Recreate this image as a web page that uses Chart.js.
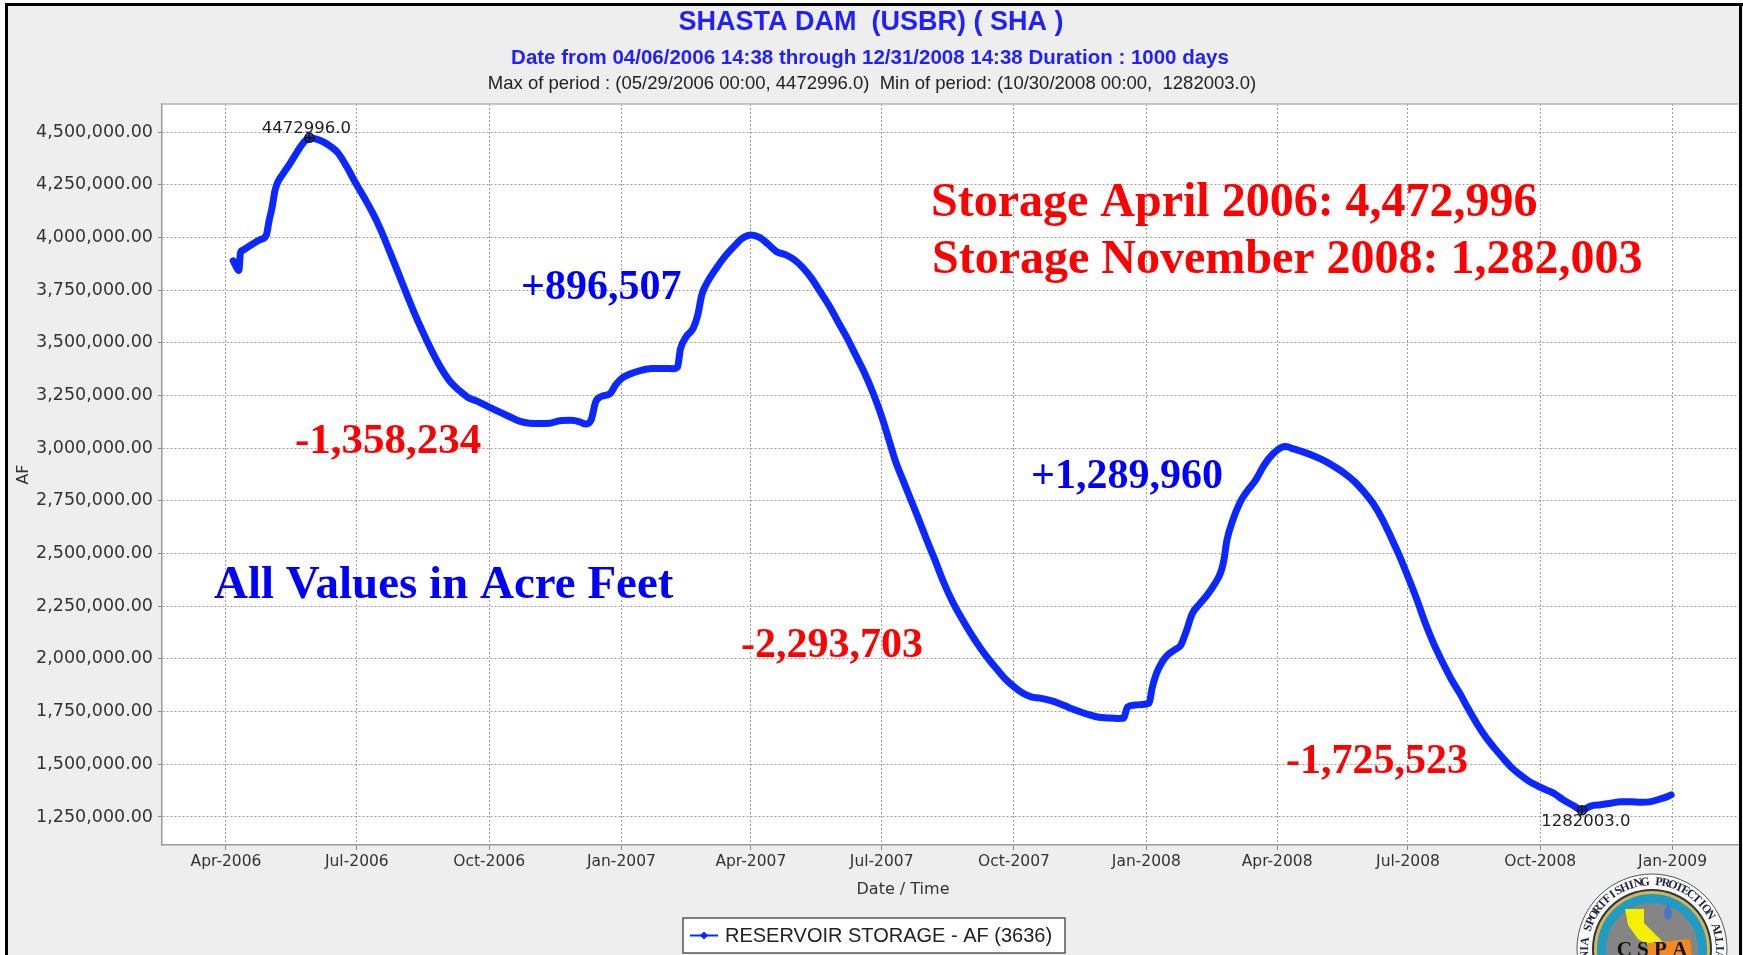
<!DOCTYPE html>
<html>
<head>
<meta charset="utf-8">
<title>Shasta Dam - reservoir storage</title>
<script src="https://cdn.jsdelivr.net/npm/chart.js@4.4.1/dist/chart.umd.min.js"></script>
<style>
  html, body { margin: 0; padding: 0; background: #fff; }
  canvas { display: block; }
</style>
</head>
<body>
<canvas id="storageChart" width="1743" height="955"></canvas>
<script>
/* ----- data ----- */
const dates = [
  "2006-04-06", "2006-04-08", "2006-04-10", "2006-04-11", "2006-04-13", "2006-04-17", "2006-04-21", "2006-04-25",
  "2006-04-29", "2006-05-01", "2006-05-03", "2006-05-05", "2006-05-07", "2006-05-11", "2006-05-15", "2006-05-20",
  "2006-05-25", "2006-05-29", "2006-06-03", "2006-06-08", "2006-06-13", "2006-06-18", "2006-06-24", "2006-06-30",
  "2006-07-06", "2006-07-12", "2006-07-18", "2006-07-24", "2006-07-30", "2006-08-05", "2006-08-11", "2006-08-17",
  "2006-08-23", "2006-08-29", "2006-09-04", "2006-09-10", "2006-09-16", "2006-09-23", "2006-10-01", "2006-10-08",
  "2006-10-15", "2006-10-22", "2006-10-29", "2006-11-05", "2006-11-12", "2006-11-19", "2006-11-27", "2006-12-03",
  "2006-12-07", "2006-12-11", "2006-12-14", "2006-12-18", "2006-12-24", "2006-12-28", "2007-01-01", "2007-01-07",
  "2007-01-14", "2007-01-22", "2007-01-30", "2007-02-06", "2007-02-09", "2007-02-11", "2007-02-15", "2007-02-20",
  "2007-02-23", "2007-02-26", "2007-03-02", "2007-03-08", "2007-03-14", "2007-03-20", "2007-03-26", "2007-04-01",
  "2007-04-07", "2007-04-13", "2007-04-19", "2007-04-25", "2007-05-01", "2007-05-07", "2007-05-13", "2007-05-19",
  "2007-05-26", "2007-06-01", "2007-06-07", "2007-06-13", "2007-06-19", "2007-06-25", "2007-07-01", "2007-07-06",
  "2007-07-11", "2007-07-16", "2007-07-21", "2007-07-26", "2007-08-01", "2007-08-07", "2007-08-13", "2007-08-19",
  "2007-08-25", "2007-09-01", "2007-09-07", "2007-09-13", "2007-09-19", "2007-09-25", "2007-10-01", "2007-10-07",
  "2007-10-13", "2007-10-19", "2007-10-26", "2007-11-01", "2007-11-08", "2007-11-15", "2007-11-22", "2007-11-29",
  "2007-12-05", "2007-12-12", "2007-12-16", "2007-12-19", "2007-12-24", "2007-12-29", "2008-01-03", "2008-01-05",
  "2008-01-08", "2008-01-12", "2008-01-16", "2008-01-22", "2008-01-25", "2008-01-29", "2008-02-02", "2008-02-07",
  "2008-02-12", "2008-02-18", "2008-02-22", "2008-02-24", "2008-02-26", "2008-03-01", "2008-03-06", "2008-03-11",
  "2008-03-17", "2008-03-23", "2008-03-29", "2008-04-04", "2008-04-07", "2008-04-13", "2008-04-20", "2008-04-27",
  "2008-05-04", "2008-05-11", "2008-05-18", "2008-05-25", "2008-06-01", "2008-06-07", "2008-06-13", "2008-06-19",
  "2008-06-25", "2008-07-01", "2008-07-07", "2008-07-13", "2008-07-19", "2008-07-25", "2008-07-31", "2008-08-06",
  "2008-08-12", "2008-08-18", "2008-08-24", "2008-08-30", "2008-09-05", "2008-09-11", "2008-09-17", "2008-09-23",
  "2008-09-29", "2008-10-05", "2008-10-11", "2008-10-17", "2008-10-24", "2008-10-30", "2008-11-05", "2008-11-12",
  "2008-11-19", "2008-11-26", "2008-12-03", "2008-12-10", "2008-12-17", "2008-12-23", "2008-12-27", "2008-12-31"
];

const storage = [
  3889000, 3862000, 3843000, 3925000, 3940000, 3958000, 3975000, 3990000,
  4010000, 4080000, 4140000, 4220000, 4262000, 4305000, 4345000, 4400000,
  4450000, 4472996, 4466000, 4452000, 4430000, 4400000, 4335000, 4260000,
  4190000, 4116000, 4030000, 3930000, 3828000, 3725000, 3625000, 3535000,
  3450000, 3375000, 3315000, 3275000, 3242000, 3222000, 3195000, 3172000,
  3150000, 3128000, 3118000, 3117000, 3118000, 3130000, 3132000, 3125000,
  3114762, 3135000, 3218000, 3245000, 3258000, 3300000, 3330000, 3352000,
  3368000, 3378000, 3378000, 3377000, 3385000, 3470000, 3528000, 3570000,
  3630000, 3730000, 3790000, 3854000, 3910000, 3955000, 3995000, 4011269,
  4000000, 3968000, 3932000, 3918000, 3895000, 3858000, 3808000, 3745000,
  3670000, 3595000, 3522000, 3440000, 3358000, 3262000, 3150000, 3040000,
  2930000, 2845000, 2760000, 2675000, 2570000, 2470000, 2365000, 2275000,
  2200000, 2120000, 2058000, 2002000, 1952000, 1905000, 1868000, 1838000,
  1820000, 1814000, 1803000, 1790000, 1770000, 1752000, 1736000, 1723000,
  1720000, 1717566, 1718000, 1772000, 1781000, 1784000, 1790000, 1860000,
  1930000, 1985000, 2020000, 2048000, 2065000, 2135000, 2215000, 2260000,
  2300000, 2360000, 2415000, 2470000, 2560000, 2655000, 2740000, 2795000,
  2848000, 2920000, 2972000, 3004000, 3007526, 2995000, 2980000, 2962000,
  2940000, 2912000, 2880000, 2840000, 2788000, 2735000, 2665000, 2580000,
  2490000, 2390000, 2285000, 2170000, 2070000, 1985000, 1905000, 1837000,
  1762000, 1692000, 1630000, 1578000, 1530000, 1485000, 1450000, 1420000,
  1398000, 1379000, 1360000, 1331000, 1304000, 1282003, 1302000, 1308000,
  1315000, 1322000, 1322000, 1320000, 1323000, 1335000, 1343000, 1355000
];

const tickDates = ["2006-04-01", "2006-07-01", "2006-10-01", "2007-01-01", "2007-04-01", "2007-07-01",
  "2007-10-01", "2008-01-01", "2008-04-01", "2008-07-01", "2008-10-01", "2009-01-01"];
const tickLabels = ["Apr-2006", "Jul-2006", "Oct-2006", "Jan-2007", "Apr-2007", "Jul-2007",
  "Oct-2007", "Jan-2008", "Apr-2008", "Jul-2008", "Oct-2008", "Jan-2009"];
const yTicks = [1250000, 1500000, 1750000, 2000000, 2250000, 2500000, 2750000,
  3000000, 3250000, 3500000, 3750000, 4000000, 4250000, 4500000];

const seriesLabel = "RESERVOIR STORAGE - AF (3636)";
const titleLines = [
  "SHASTA DAM  (USBR) ( SHA )",
  "Date from 04/06/2006 14:38 through 12/31/2008 14:38 Duration : 1000 days",
  "Max of period : (05/29/2006 00:00, 4472996.0)  Min of period: (10/30/2008 00:00,  1282003.0)"
];

/* ----- note di testo sul grafico ----- */
const notes = [
  { text: "Storage April 2006: 4,472,996", x: 931, y: 216, size: 48, color: "#ff0000" },
  { text: "Storage November 2008: 1,282,003", x: 932, y: 273, size: 48, color: "#ff0000" },
  { text: "+896,507", x: 521, y: 299, size: 42, color: "#0000ff" },
  { text: "-1,358,234", x: 295, y: 453, size: 43, color: "#ff0000" },
  { text: "All Values in Acre Feet", x: 214, y: 598, size: 47, color: "#0000ff" },
  { text: "-2,293,703", x: 741, y: 657, size: 42, color: "#ff0000" },
  { text: "+1,289,960", x: 1031, y: 488, size: 42, color: "#0000ff" },
  { text: "-1,725,523", x: 1286, y: 773, size: 42, color: "#ff0000" }
];

/* ----- helpers ----- */
const DAY = 86400000;
const origin = Date.parse("2006-04-01");
const toDay = (d) => (Date.parse(d) - origin) / DAY;

const SANS = '"Liberation Sans", Arial, sans-serif';
const TICKS = '"DejaVu Sans", Verdana, sans-serif';
const SERIF = '"Liberation Serif", "Times New Roman", serif';
const LINE_BLUE = "#0a28ff";

function crossMarker(ctx, x, y) {
  ctx.save();
  ctx.strokeStyle = "#111";
  ctx.lineWidth = 1.5;
  ctx.beginPath();
  ctx.arc(x, y, 4.5, 0, Math.PI * 2);
  ctx.moveTo(x - 4.5, y);
  ctx.lineTo(x + 4.5, y);
  ctx.moveTo(x, y - 4.5);
  ctx.lineTo(x, y + 4.5);
  ctx.stroke();
  ctx.restore();
}

function drawLogo(ctx, cx, cy, r) {
  ctx.save();
  ctx.beginPath();
  ctx.arc(cx, cy, r, 0, Math.PI * 2);
  ctx.fillStyle = "#fbfbf7";
  ctx.fill();
  ctx.strokeStyle = "#555";
  ctx.lineWidth = 1;
  ctx.stroke();

  // scritta circolare
  const ring = "CALIFORNIA SPORTFISHING PROTECTION ALLIANCE";
  const step = 0.104;
  ctx.fillStyle = "#1c2240";
  ctx.font = "bold 12px " + SERIF;
  ctx.textAlign = "center";
  ctx.textBaseline = "middle";
  for (let i = 0; i < ring.length; i++) {
    const a = -Math.PI / 2 + (i - 23) * step;
    ctx.save();
    ctx.translate(cx + (r - 8) * Math.cos(a), cy + (r - 8) * Math.sin(a));
    ctx.rotate(a + Math.PI / 2);
    ctx.fillText(ring[i], 0, 0);
    ctx.restore();
  }

  const rings = [[r - 15, "#2b3350"], [r - 17, "#d8b64a"], [r - 20, "#1f9cc4"], [r - 29, "#858585"]];
  rings.forEach(([rr, col]) => {
    ctx.beginPath();
    ctx.arc(cx, cy, rr, 0, Math.PI * 2);
    ctx.fillStyle = col;
    ctx.fill();
  });

  // california
  ctx.beginPath();
  ctx.moveTo(cx - 27, cy - 40);
  ctx.lineTo(cx - 8, cy - 40);
  ctx.lineTo(cx - 8, cy - 26);
  ctx.lineTo(cx + 12, cy - 6);
  ctx.lineTo(cx + 6, cy + 2);
  ctx.lineTo(cx - 14, cy - 10);
  ctx.lineTo(cx - 24, cy - 24);
  ctx.closePath();
  ctx.fillStyle = "#f4f000";
  ctx.fill();

  ctx.beginPath();
  ctx.moveTo(cx - 4, cy - 6);
  ctx.lineTo(cx + 38, cy - 10);
  ctx.lineTo(cx + 40, cy + 8);
  ctx.lineTo(cx - 4, cy + 8);
  ctx.closePath();
  ctx.fillStyle = "#f28a1e";
  ctx.fill();

  // goccia
  ctx.beginPath();
  ctx.moveTo(cx + 16, cy - 46);
  ctx.quadraticCurveTo(cx + 24, cy - 32, cx + 16, cy - 29);
  ctx.quadraticCurveTo(cx + 8, cy - 32, cx + 16, cy - 46);
  ctx.fillStyle = "#4a74c8";
  ctx.fill();

  ctx.fillStyle = "#111";
  ctx.font = "bold 21px " + SERIF;
  ctx.textAlign = "center";
  ctx.textBaseline = "alphabetic";
  ctx.fillText("C S P A", cx, cy + 7);
  ctx.restore();
}

/* ----- plugin sfondo, titoli, note, legenda ----- */
const decorations = {
  id: "decorations",
  beforeDraw(chart) {
    const { ctx, width, height, chartArea: a } = chart;
    ctx.save();
    ctx.fillStyle = "#ffffff";
    ctx.fillRect(0, 0, width, height);
    ctx.fillStyle = "#eeeeee";
    ctx.fillRect(7, 5, width - 7, height - 5);
    ctx.fillStyle = "#ffffff";
    ctx.fillRect(a.left, a.top, a.right - a.left, a.bottom - a.top);
    ctx.restore();
  },
  afterDraw(chart) {
    const { ctx, width, height, chartArea: a, scales } = chart;
    ctx.save();

    // cornice area dati
    ctx.strokeStyle = "#b5b5b5";
    ctx.lineWidth = 1.5;
    ctx.beginPath();
    ctx.moveTo(a.left, a.top);
    ctx.lineTo(a.right, a.top);
    ctx.stroke();

    // bordo nero
    ctx.fillStyle = "#000";
    ctx.fillRect(5, 3, width - 5, 3);
    ctx.fillRect(5, 3, 3, height - 3);
    ctx.fillRect(width - 4, 3, 3, height - 3);

    // titoli
    ctx.textAlign = "center";
    ctx.textBaseline = "middle";
    ctx.fillStyle = "#1f1fff";
    ctx.font = "bold 27px " + SANS;
    ctx.fillText(titleLines[0], 871, 23);
    ctx.font = "bold 20.5px " + SANS;
    ctx.fillText(titleLines[1], 870, 58);
    ctx.fillStyle = "#222";
    ctx.font = "18.5px " + SANS;
    ctx.fillText(titleLines[2], 872, 84);

    // titolo asse x
    ctx.fillStyle = "#333";
    ctx.font = "16px " + TICKS;
    ctx.fillText("Date / Time", 903, 890);

    // massimo e minimo
    const iMax = storage.indexOf(Math.max(...storage));
    const iMin = storage.indexOf(Math.min(...storage));
    const px = (i) => scales.x.getPixelForValue(toDay(dates[i]));
    const py = (i) => scales.y.getPixelForValue(storage[i]);
    crossMarker(ctx, px(iMax), py(iMax));
    crossMarker(ctx, px(iMin), py(iMin));
    ctx.fillStyle = "#222";
    ctx.font = "16.5px " + TICKS;
    ctx.textBaseline = "alphabetic";
    ctx.fillText(storage[iMax].toFixed(1), px(iMax) - 3, py(iMax) - 5);
    ctx.textBaseline = "top";
    ctx.fillText(storage[iMin].toFixed(1), px(iMin) + 4, py(iMin) + 3);

    // note
    ctx.textAlign = "left";
    ctx.textBaseline = "alphabetic";
    notes.forEach((n) => {
      ctx.fillStyle = n.color;
      ctx.font = "bold " + n.size + "px " + SERIF;
      ctx.fillText(n.text, n.x, n.y);
    });

    // legenda
    const lx = 683, ly = 918, lw = 382, lh = 35;
    ctx.fillStyle = "#fff";
    ctx.fillRect(lx, ly, lw, lh);
    ctx.strokeStyle = "#555";
    ctx.lineWidth = 1.5;
    ctx.strokeRect(lx, ly, lw, lh);
    const my = ly + lh / 2;
    ctx.strokeStyle = LINE_BLUE;
    ctx.lineWidth = 2;
    ctx.beginPath();
    ctx.moveTo(lx + 7, my);
    ctx.lineTo(lx + 35, my);
    ctx.stroke();
    ctx.fillStyle = LINE_BLUE;
    ctx.beginPath();
    ctx.moveTo(lx + 21, my - 4);
    ctx.lineTo(lx + 25, my);
    ctx.lineTo(lx + 21, my + 4);
    ctx.lineTo(lx + 17, my);
    ctx.closePath();
    ctx.fill();
    ctx.fillStyle = "#222";
    ctx.font = "20px " + SANS;
    ctx.textBaseline = "middle";
    ctx.fillText(chart.data.datasets[0].label, lx + 42, my + 1);

    ctx.restore();
    drawLogo(ctx, 1652, 949, 75);
  }
};

/* ----- grafico ----- */
new Chart(document.getElementById("storageChart"), {
  type: "line",
  data: {
    datasets: [
      {
        label: seriesLabel,
        data: dates.map((d, i) => ({ x: toDay(d), y: storage[i] })),
        borderColor: LINE_BLUE,
        backgroundColor: LINE_BLUE,
        borderWidth: 7,
        pointRadius: 0,
        cubicInterpolationMode: "monotone",
        borderCapStyle: "round",
        borderJoinStyle: "round",
        fill: false,
      },
    ],
  },
  options: {
    responsive: false,
    animation: false,
    devicePixelRatio: 1,
    layout: { padding: { left: 9, top: 104, right: 5, bottom: 0 } },
    plugins: {
      legend: { display: false },
      tooltip: { enabled: false },
    },
    scales: {
      x: {
        type: "linear",
        bounds: "data",
        min: -44.5,
        max: 1051.5,
        afterBuildTicks: (scale) => {
          scale.ticks = tickDates.map((d) => ({ value: toDay(d) }));
        },
        afterFit: (scale) => {
          scale.height = 110;
        },
        ticks: {
          autoSkip: false,
          maxRotation: 0,
          padding: 3,
          color: "#333",
          font: { family: TICKS, size: 15.5 },
          callback: (value, index) => tickLabels[index],
        },
        grid: { color: "#a0a0a0", lineWidth: 1, tickLength: 5, tickColor: "#888" },
        border: { color: "#999", width: 1.5, dash: [2, 2] },
      },
      y: {
        type: "linear",
        bounds: "data",
        min: 1117100,
        max: 4632900,
        afterBuildTicks: (scale) => {
          scale.ticks = yTicks.map((v) => ({ value: v }));
        },
        afterFit: (scale) => {
          scale.width = 153;
        },
        ticks: {
          padding: 5,
          color: "#333",
          font: { family: TICKS, size: 17.5 },
          callback: (value) =>
            value.toLocaleString("en-US", { minimumFractionDigits: 2, maximumFractionDigits: 2 }),
        },
        grid: { color: "#a0a0a0", lineWidth: 1, tickLength: 4, tickColor: "#888" },
        border: { color: "#999", width: 1.5, dash: [2, 2] },
        title: {
          display: true,
          text: "AF",
          color: "#333",
          font: { family: TICKS, size: 16 },
          padding: { top: 5, bottom: 0 },
        },
      },
    },
  },
  plugins: [decorations],
});
</script>
</body>
</html>
